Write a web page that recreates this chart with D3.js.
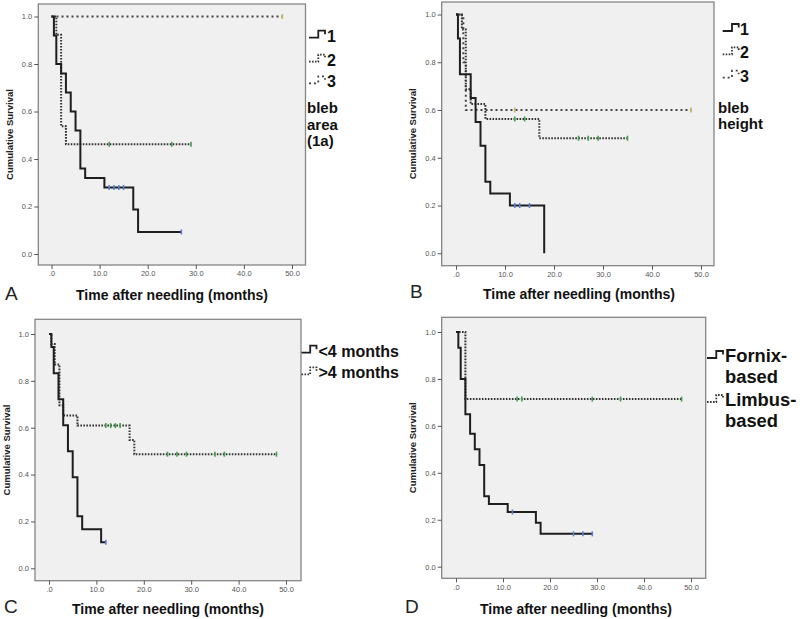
<!DOCTYPE html>
<html><head><meta charset="utf-8">
<script src="https://cdn.jsdelivr.net/npm/d3@7"></script>
<style>body{margin:0;background:#fff}</style>
</head><body><svg id="c" width="800" height="619"></svg>
<script>
// ---------- shared texts ----------
const xTickValues = [0, 10, 20, 30, 40, 50];
const xTickLabels = [".0", "10.0", "20.0", "30.0", "40.0", "50.0"];
const yTickValues = [0, 0.2, 0.4, 0.6, 0.8, 1.0];
const yTickLabels = ["0.0", "0.2", "0.4", "0.6", "0.8", "1.0"];
const panelLetters = ["A", "B", "C", "D"];
const xAxisTitle = "Time after needling (months)";
const yAxisTitle = "Cumulative Survival";

// ---------- Panel A: bleb area ----------
const aGroups = ["1", "2", "3"];
const aLegendTitle = ["bleb", "area", "(1a)"];
const a1Times = [0.5, 1, 2, 3, 4, 5, 6, 7, 11, 17, 18];
const a1Surv  = [0.92, 0.80, 0.76, 0.68, 0.60, 0.52, 0.36, 0.32, 0.28, 0.187, 0.093];
const a1End = 27, a1Censor = [12, 13, 14, 15, 27];
const a2Times = [1, 2, 3];
const a2Surv  = [0.923, 0.538, 0.462];
const a2End = 29, a2Censor = [12, 25, 29];
const a3Times = [], a3Surv = [];
const a3End = 48, a3Censor = [48];

// ---------- Panel B: bleb height ----------
const bGroups = ["1", "2", "3"];
const bLegendTitle = ["bleb", "height"];
const b1Times = [0.4, 0.8, 3, 4, 5, 6, 7, 11, 18];
const b1Surv  = [0.90, 0.75, 0.65, 0.55, 0.45, 0.30, 0.25, 0.20, 0.0];
const b1End = 18, b1Censor = [12, 13, 15];
const b2Times = [1.2, 2, 3, 6, 17];
const b2Surv  = [0.9375, 0.6875, 0.625, 0.5625, 0.482];
const b2End = 35, b2Censor = [12, 14, 25, 27, 29, 35];
const b3Times = [1.5, 2];
const b3Surv  = [0.8, 0.6];
const b3End = 48, b3Censor = [12, 48];

// ---------- Panel C: time to needling ----------
const cGroups = ["<4 months", ">4 months"];
const c1Times = [0.5, 1, 2, 3, 4, 5, 6, 7, 11];
const c1Surv  = [0.944, 0.833, 0.722, 0.611, 0.5, 0.389, 0.222, 0.167, 0.111];
const c1End = 12, c1Censor = [12];
const c2Times = [0.5, 1.2, 2.2, 3, 6, 17, 18];
const c2Surv  = [0.957, 0.870, 0.696, 0.652, 0.609, 0.548, 0.487];
const c2End = 48, c2Censor = [12, 13, 14, 15, 25, 27, 29, 35, 37, 48];

// ---------- Panel D: flap type ----------
const dGroups = [["Fornix-", "based"], ["Limbus-", "based"]];
const d1Times = [0.5, 1, 2, 3, 4, 5, 6, 7, 11, 17, 18];
const d1Surv  = [0.933, 0.80, 0.65, 0.567, 0.50, 0.433, 0.30, 0.267, 0.233, 0.187, 0.14];
const d1End = 29, d1Censor = [12, 25, 27, 29];
const d2Times = [2];
const d2Surv  = [0.714];
const d2End = 48, d2Censor = [13, 14, 29, 35, 48];

// ---------- styles ----------
const lineStyles = [
  {stroke: "#1e1e1e", width: 2, dash: null, censor: "#5b7fd6"},
  {stroke: "#333333", width: 2, dash: "1.6,1.4", censor: "#3fa04a"},
  {stroke: "#444444", width: 2, dash: "2,3", censor: "#c9b46a"}
];
const font = "Arial, 'Liberation Sans', sans-serif";

// ---------- layout ----------
const panels = [
  {letter: 0, frame: [38.3, 4, 305.5, 265], x0: 51.5, x50: 292, y0: 254, y1: 16.5,
   series: [[a1Times, a1Surv, a1End, a1Censor], [a2Times, a2Surv, a2End, a2Censor], [a3Times, a3Surv, a3End, a3Censor]],
   xTitle: [172, 300], letterPos: [5, 300], yTitleX: 10,
   legend: {items: aGroups.map(g => [g]), x: 309, symW: 16, textX: 327, base: [41.7, 65.7, 87.3], size: 16, lineH: 15.5, sx: 1,
            title: aLegendTitle, titleX: 307, titleBase: 113, titleSize: 15, titleLineH: 16.5}},
  {letter: 1, frame: [441.7, 2, 714, 265.7], x0: 456, x50: 701, y0: 253.3, y1: 14.5,
   series: [[b1Times, b1Surv, b1End, b1Censor], [b2Times, b2Surv, b2End, b2Censor], [b3Times, b3Surv, b3End, b3Censor]],
   xTitle: [579, 299], letterPos: [410, 298], yTitleX: 413,
   legend: {items: bGroups.map(g => [g]), x: 722.7, symW: 16, textX: 740, base: [35, 58.3, 81.7], size: 16, lineH: 15.5, sx: 1,
            title: bLegendTitle, titleX: 718, titleBase: 113.3, titleSize: 15, titleLineH: 16}},
  {letter: 2, frame: [35, 319.3, 301, 580.7], x0: 49, x50: 286, y0: 568.3, y1: 334,
   series: [[c1Times, c1Surv, c1End, c1Censor], [c2Times, c2Surv, c2End, c2Censor]],
   xTitle: [168, 614], letterPos: [4, 613], yTitleX: 7,
   legend: {items: cGroups.map(g => [g]), x: 301.5, symW: 15, textX: 318.5, base: [356.7, 378.3], size: 16, lineH: 16, sx: 1}},
  {letter: 3, frame: [441.7, 317.3, 705.7, 578.3], x0: 456, x50: 691, y0: 566.7, y1: 332,
   series: [[d1Times, d1Surv, d1End, d1Censor], [d2Times, d2Surv, d2End, d2Censor]],
   xTitle: [576, 614], letterPos: [405, 613], yTitleX: 413,
   legend: {items: dGroups, x: 707, symW: 16, textX: 725, base: [362, 406], size: 18, lineH: 20.5, sx: 1.02}}
];

const svg = d3.select("#c");

function stepPoints(times, surv, end) {
  const pts = [[0, 1]];
  let prev = 1;
  times.forEach((t, i) => { pts.push([t, prev]); pts.push([t, surv[i]]); prev = surv[i]; });
  pts.push([Math.max(end, times.length ? times[times.length - 1] : 0), prev]);
  return pts;
}
function survAt(times, surv, t) {
  let s = 1;
  times.forEach((tt, i) => { if (tt <= t) s = surv[i]; });
  return s;
}

panels.forEach(p => {
  const g = svg.append("g");
  const [fx0, fy0, fx1, fy1] = p.frame;
  const x = d3.scaleLinear().domain([0, 50]).range([p.x0, p.x50]);
  const y = d3.scaleLinear().domain([0, 1]).range([p.y0, p.y1]);

  g.append("rect").attr("x", fx0).attr("y", fy0).attr("width", fx1 - fx0).attr("height", fy1 - fy0)
    .attr("fill", "#f0f0f0").attr("stroke", "#858585").attr("stroke-width", 1.3);

  // axes
  const ya = g.append("g").attr("transform", `translate(${fx0},0)`)
    .call(d3.axisLeft(y).tickValues(yTickValues).tickFormat((d, i) => yTickLabels[i]).tickSize(4).tickPadding(2));
  const xa = g.append("g").attr("transform", `translate(0,${fy1})`)
    .call(d3.axisBottom(x).tickValues(xTickValues).tickFormat((d, i) => xTickLabels[i]).tickSize(4).tickPadding(2));
  [ya, xa].forEach(a => {
    a.select(".domain").remove();
    a.selectAll(".tick line").attr("stroke", "#555").attr("stroke-width", 1);
    a.selectAll(".tick text").attr("fill", "#555").style("font-family", font).style("font-size", "7.5px");
  });

  // series
  const line = d3.line().x(d => x(d[0])).y(d => y(d[1]));
  p.series.slice().reverse().forEach((s, ri) => {
    const si = p.series.length - 1 - ri;
    const st = lineStyles[si];
    const [times, surv, end, cens] = s;
    g.append("path").attr("d", line(stepPoints(times, surv, end)))
      .attr("fill", "none").attr("stroke", st.stroke).attr("stroke-width", st.width)
      .attr("stroke-dasharray", st.dash).attr("stroke-linejoin", "miter");
    cens.forEach(t => {
      const v = survAt(times, surv, t);
      g.append("line").attr("x1", x(t)).attr("x2", x(t)).attr("y1", y(v) - 2.5).attr("y2", y(v) + 2.5)
        .attr("stroke", st.censor).attr("stroke-width", 1.6);
    });
  });

  // axis titles
  g.append("text").attr("x", p.xTitle[0]).attr("y", p.xTitle[1]).attr("text-anchor", "middle")
    .style("font-family", font).style("font-size", "14px").style("font-weight", "bold").attr("fill", "#111")
    .text(xAxisTitle);
  g.append("text").attr("transform", `translate(${p.yTitleX + 3},${(fy0 + fy1) / 2}) rotate(-90)`)
    .attr("text-anchor", "middle").style("font-family", font).style("font-size", "9.5px").style("font-weight", "bold")
    .attr("fill", "#222").text(yAxisTitle);
  g.append("text").attr("x", p.letterPos[0]).attr("y", p.letterPos[1])
    .style("font-family", font).style("font-size", "19px").attr("fill", "#222").text(panelLetters[p.letter]);

  // legend
  const L = p.legend;
  L.items.forEach((lines, i) => {
    const st = lineStyles[i];
    const b = L.base[i];
    const yb = b - 4, yt = b - 11, ye = b - 7.5;
    const xs = L.x, xm = L.x + L.symW * 0.58, xe = L.x + L.symW;
    g.append("path").attr("d", `M${xs},${yb}H${xm}V${yt}H${xe}V${ye}`)
      .attr("fill", "none").attr("stroke", st.stroke).attr("stroke-width", 1.8).attr("stroke-dasharray", st.dash);
    lines.forEach((ln, j) => {
      g.append("text").attr("transform", `translate(${L.textX},${b + j * L.lineH}) scale(${L.sx},1)`)
        .style("font-family", font).style("font-size", L.size + "px").style("font-weight", "bold").attr("fill", "#111")
        .text(ln);
    });
  });
  if (L.title) {
    L.title.forEach((ln, j) => {
      g.append("text").attr("x", L.titleX).attr("y", L.titleBase + j * L.titleLineH)
        .style("font-family", font).style("font-size", L.titleSize + "px").style("font-weight", "bold").attr("fill", "#111")
        .text(ln);
    });
  }
});
</script></body></html>
